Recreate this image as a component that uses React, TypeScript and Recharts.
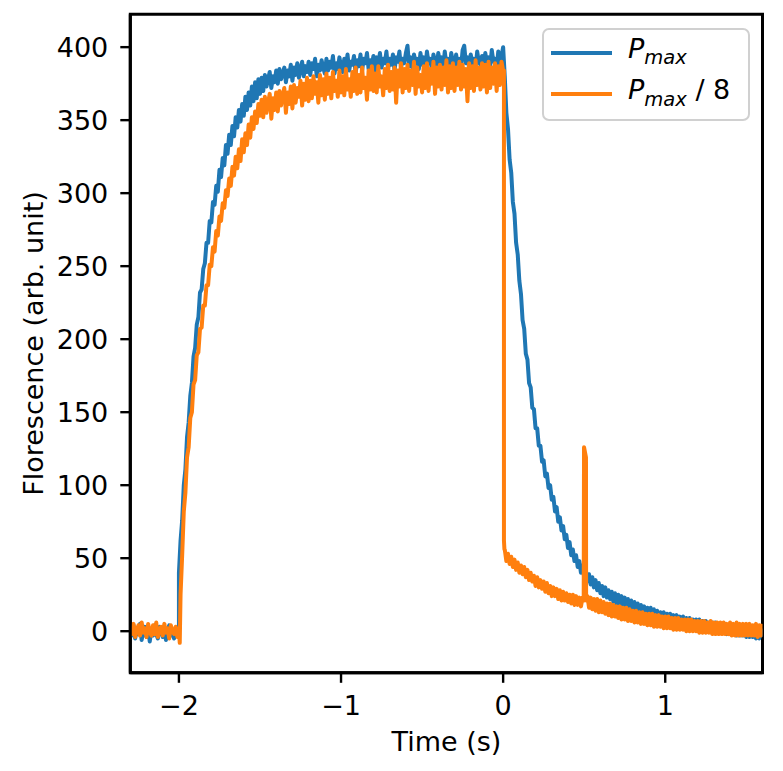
import { Label, Legend, Line, LineChart, ReferenceArea, XAxis, YAxis } from 'recharts';

const STEP = 0.01;

const X_DOMAIN: [number, number] = [-2.3, 1.6];
const Y_DOMAIN: [number, number] = [-28.5, 422.5];
const X_TICKS = [-2, -1, 0, 1];
const Y_TICKS = [0, 50, 100, 150, 200, 250, 300, 350, 400];

// ---- P_max ----
// -2.30 .. -2.01
const blueBase = [2, -3, 4, -5, 1, -2, 5, -6, 0, 3, -4, 2, -7, 1, -3, 4, -2, -5, 3, 0, -4, 2, -6, 1, 4, -3, -1, -5, 2, -2];
const blueJump: [number, number][] = [[-2.0, -3], [-2.0, 40]];
// -1.99 .. -1.50
const blueRise = [
  62, 76, 100, 111, 133, 143, 161, 170, 188, 194, 210, 215, 232, 234, 248, 252, 266, 266, 281, 280,
  294, 292, 305, 301, 316, 311, 324, 319, 333, 327, 340, 333, 346, 339, 352, 345, 357, 349, 361, 353,
  366, 357, 369, 360, 373, 363, 376, 365, 378, 368,
];
// -1.49 .. 0.00
const bluePlateau = [
  379, 370, 381, 373, 378, 383, 372, 380, 376, 384,
  375, 385, 378, 382, 386, 376, 384, 380, 388, 377,
  386, 381, 389, 379, 385, 390, 380, 387, 383, 390,
  381, 389, 385, 392, 380, 388, 384, 391, 386, 382,
  392, 384, 390, 386, 394, 382, 389, 385, 393, 387,
  383, 392, 386, 395, 384, 390, 388, 394, 382, 391,
  387, 395, 384, 392, 389, 396, 385, 391, 388, 394,
  384, 393, 388, 396, 386, 392, 389, 397, 385, 392,
  388, 395, 384, 393, 390, 397, 386, 392, 389, 396,
  401, 387, 393, 386, 395, 389, 392, 385, 396, 388,
  393, 386, 397, 389, 392, 385, 395, 390, 387, 396,
  389, 393, 386, 397, 388, 392, 385, 396, 390, 387,
  395, 388, 392, 386, 398, 401, 389, 393, 386, 395,
  389, 392, 386, 397, 390, 388, 394, 386, 396, 389,
  393, 387, 398, 390, 392, 386, 397, 389, 394, 400,
];
// 0.01 .. 1.60
const blueDecay = [
  380, 355, 344, 323, 314, 294, 286, 266, 258, 240,
  231, 213, 207, 190, 186, 170, 167, 153, 152, 139,
  139, 127, 127, 116, 117, 106, 108, 98, 100, 90,
  92, 82, 85, 75, 78, 69, 72, 63, 66, 57,
  61, 52, 56, 48, 52, 44, 48, 40, 45, 37,
  42, 34, 39, 32, 37, 30, 35, 28, 33, 26,
  31, 24, 30, 23, 28, 22, 27, 20, 26, 19,
  25, 18, 24, 17, 23, 16, 22, 15, 21, 14,
  20, 13, 19, 12, 18, 12, 17, 11, 16, 10,
  16, 9, 15, 9, 14, 8, 13, 8, 13, 7,
  12, 6, 12, 6, 11, 5, 11, 5, 10, 4,
  10, 4, 9, 3, 9, 3, 8, 2, 8, 2,
  8, 1, 7, 1, 7, 1, 6, 0, 6, 0,
  6, -1, 5, -1, 5, -1, 5, -2, 4, -2,
  4, -2, 4, -3, 3, -3, 3, -3, 3, -4,
  2, -4, 2, -4, 2, -5, 1, -5, 1, -4,
];

// ---- P_max / 8 ----
// -2.30 .. -2.01
const orangeBase = [3, -2, 5, -4, 1, 4, -3, 6, -1, 2, -4, 5, 0, -3, 4, -2, 6, -4, 1, 3, -3, 5, -1, 2, -5, 4, 0, -2, 3, -4];
const orangeDip: [number, number][] = [[-2.0, 2], [-1.995, -8]];
// -1.99 .. -1.50
const orangeRise = [
  25, 52, 82, 95, 119, 126, 146, 150, 169, 172, 189, 191, 207, 208, 223, 223, 237, 237, 251, 250,
  263, 260, 274, 271, 284, 281, 293, 290, 302, 298, 310, 305, 318, 312, 325, 317, 330, 322, 337, 328,
  341, 333, 347, 338, 352, 344, 356, 348, 361, 353,
];
// -1.49 .. 0.00
const orangePlateau = [
  364, 352, 366, 355, 362, 368, 351, 365, 357, 369,
  356, 370, 360, 367, 372, 355, 369, 361, 373, 358,
  374, 362, 372, 366, 377, 360, 375, 364, 379, 363,
  377, 365, 380, 368, 376, 362, 381, 367, 378, 364,
  382, 368, 379, 365, 383, 370, 377, 366, 384, 369,
  380, 367, 385, 371, 378, 366, 383, 370, 386, 368,
  381, 369, 386, 372, 379, 364, 384, 371, 387, 370,
  382, 369, 387, 373, 380, 367, 385, 372, 388, 370,
  383, 371, 386, 362, 384, 373, 389, 369, 385, 372,
  388, 370, 384, 374, 390, 368, 386, 373, 381, 369,
  387, 372, 389, 370, 385, 375, 390, 368, 386, 373,
  388, 371, 386, 374, 391, 369, 387, 372, 389, 370,
  386, 374, 390, 371, 388, 373, 385, 363, 389, 372,
  387, 370, 391, 374, 386, 371, 389, 373, 388, 369,
  390, 372, 386, 375, 389, 370, 387, 374, 390, 384,
];
const orangeDrop: [number, number][] = [[0.005, 384], [0.005, 62], [0.008, 56]];
// 0.01 .. 0.49
const orangeDecay = [
  56, 48, 53, 46, 51, 44, 49, 42, 47, 40,
  45, 39, 44, 37, 42, 35, 40, 34, 38, 31,
  37, 30, 35, 29, 34, 27, 33, 26, 31, 24,
  30, 24, 29, 22, 28, 21, 27, 21, 26, 20,
  25, 19, 25, 18, 24, 18, 23, 17, 23,
];
const orangeSpike: [number, number][] = [[0.497, 21], [0.499, 126], [0.511, 119], [0.512, 21]];
// 0.52 .. 1.60
const orangeTail = [
  24, 16, 23, 15, 22, 14, 22, 13, 21, 13,
  20, 12, 19, 11, 19, 10, 18, 10, 17, 9,
  17, 8, 16, 8, 16, 7, 15, 7, 14, 6,
  14, 6, 13, 5, 13, 5, 12, 4, 12, 4,
  12, 3, 11, 3, 11, 3, 10, 2, 10, 2,
  10, 2, 9, 1, 9, 1, 9, 1, 8, 1,
  8, 0, 8, 0, 8, 0, 7, 0, 7, -1,
  7, -1, 7, -1, 6, -1, 7, -2, 6, -2,
  6, -2, 6, -2, 6, -2, 5, -2, 6, -3,
  5, -3, 6, -3, 5, -3, 5, -3, 5, -3,
  5, -3, 4, -3, 5, -4, 4, -3, 5,
];

type Pt = { t: number; v: number };
const seg = (start: number, vals: number[]): Pt[] =>
  vals.map((v, i) => ({ t: Math.round((start + i * STEP) * 1000) / 1000, v }));
const pts = (pairs: [number, number][]): Pt[] => pairs.map(([t, v]) => ({ t, v }));

const blueData = [
  ...seg(-2.3, blueBase), ...pts(blueJump), ...seg(-1.99, blueRise),
  ...seg(-1.49, bluePlateau), ...seg(0.01, blueDecay),
];
const orangeData = [
  ...seg(-2.3, orangeBase), ...pts(orangeDip), ...seg(-1.99, orangeRise),
  ...seg(-1.49, orangePlateau), ...pts(orangeDrop), ...seg(0.01, orangeDecay),
  ...pts(orangeSpike), ...seg(0.52, orangeTail),
];

const BLUE = '#1f77b4';
const ORANGE = '#ff7f0e';
const FONT = 'DejaVu Sans';
const FS = 27;

const tickStyle = { fill: '#000', fontSize: FS, fontFamily: FONT };
const axisLine = { stroke: '#000', strokeWidth: 3 };
const tickLine = { stroke: '#000', strokeWidth: 2.4 };
const fmt = (v: number) => (v < 0 ? `\u2212${Math.abs(v)}` : `${v}`);

function LegendBox() {
  return (
    <svg width={209} height={94} style={{ display: 'block', overflow: 'visible' }}>
      <rect x={1} y={1} width={206} height={91} rx={6} fill="#fff" fillOpacity={0.8} stroke="#d0d0d0" strokeWidth={2} />
      <line x1={9} x2={70} y1={25} y2={25} stroke={BLUE} strokeWidth={4} />
      <line x1={9} x2={70} y1={66} y2={66} stroke={ORANGE} strokeWidth={4} />
      <text x={86} y={29.5} fontFamily={FONT} fontSize={FS} fill="#000" style={{ whiteSpace: 'pre' }}>
        <tspan fontStyle="italic">P</tspan>
        <tspan fontStyle="italic" fontSize={19.5} dy={6.7}>max</tspan>
      </text>
      <text x={86} y={71} fontFamily={FONT} fontSize={FS} fill="#000" style={{ whiteSpace: 'pre' }}>
        <tspan fontStyle="italic">P</tspan>
        <tspan fontStyle="italic" fontSize={19.5} dy={6.7}>max</tspan>
        <tspan dy={-6.7}> / 8</tspan>
      </text>
    </svg>
  );
}

export default function App() {
  return (
    <div style={{ position: 'absolute', left: 0, top: 0, background: '#fff' }}>
      <LineChart width={783} height={771} margin={{ top: 14.3, right: 20.5, bottom: 0, left: 0 }}>
        <XAxis
          dataKey="t" type="number" domain={X_DOMAIN} ticks={X_TICKS} allowDataOverflow
          height={98.2} tickSize={10} tickMargin={13} tick={tickStyle} tickFormatter={fmt}
          axisLine={axisLine} tickLine={tickLine}
        >
          <Label value="Time (s)" position="insideBottom" offset={19.6} style={{ fill: '#000', fontSize: FS, fontFamily: FONT }} />
        </XAxis>
        <YAxis
          type="number" domain={Y_DOMAIN} ticks={Y_TICKS} allowDataOverflow
          width={130.3} tickSize={10} tickMargin={12} tick={tickStyle} tickFormatter={fmt}
          axisLine={axisLine} tickLine={tickLine}
        >
          <Label
            content={() => (
              <text x={43} y={343.5} transform="rotate(-90 43 343.5)" textAnchor="middle" fontFamily={FONT} fontSize={FS} fill="#000">
                Florescence (arb. unit)
              </text>
            )}
          />
        </YAxis>
        {/* full box round the plot, like the axes frame */}
        <ReferenceArea
          x1={X_DOMAIN[0]} x2={X_DOMAIN[1]} y1={Y_DOMAIN[0]} y2={Y_DOMAIN[1]}
          fill="none" stroke="#000" strokeWidth={3} ifOverflow="visible"
        />
        <Line data={blueData} dataKey="v" name="P_max" type="linear" stroke={BLUE} strokeWidth={4} strokeLinejoin="round" dot={false} activeDot={false} isAnimationActive={false} />
        <Line data={orangeData} dataKey="v" name="P_max / 8" type="linear" stroke={ORANGE} strokeWidth={4} strokeLinejoin="round" dot={false} activeDot={false} isAnimationActive={false} />
        <Legend
          layout="vertical" align="center" verticalAlign="middle"
          wrapperStyle={{ position: 'absolute', left: 541.5, top: 28, width: 209, height: 94 }}
          content={() => <LegendBox />}
        />
      </LineChart>
    </div>
  );
}
